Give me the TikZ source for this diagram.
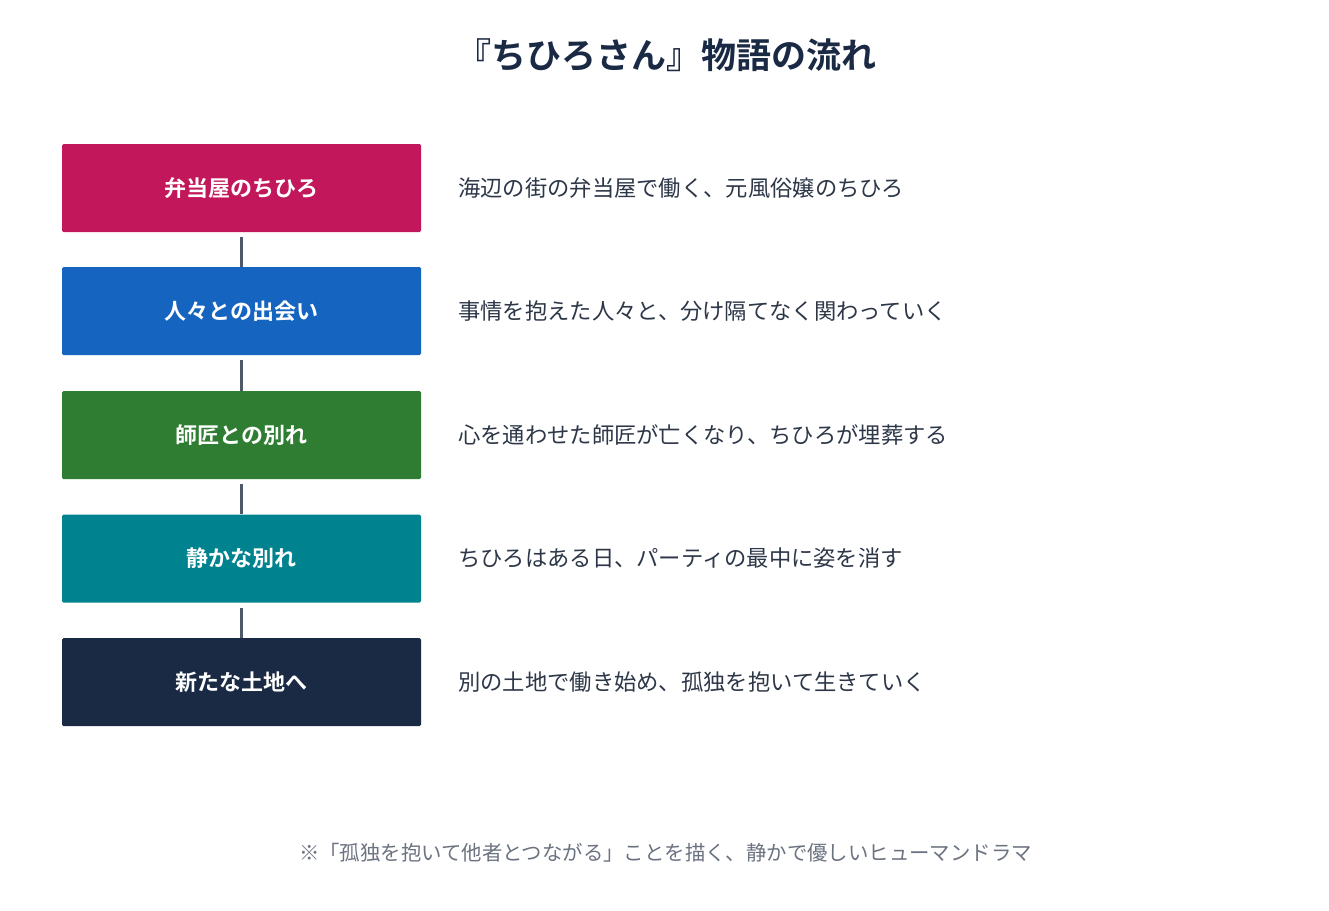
\documentclass[tikz,border=0pt]{standalone}
\usepackage{fontspec}
\setmainfont{Noto Sans CJK JP}
\newfontfamily\jpbold{Noto Sans CJK JP Bold}
\definecolor{cPink}{HTML}{C2185B}
\definecolor{cBlue}{HTML}{1565C0}
\definecolor{cGreen}{HTML}{2E7D32}
\definecolor{cTeal}{HTML}{00838F}
\definecolor{cNavy}{HTML}{1B2A44}
\definecolor{cLine}{HTML}{4F5866}
\definecolor{cText}{HTML}{2D3748}
\definecolor{cFoot}{HTML}{6B7280}
\tikzset{
  stagebox/.style={rectangle, rounded corners=1.5pt, minimum width=359pt, minimum height=88pt, inner sep=0pt, text=white, font=\jpbold\fontsize{22pt}{26pt}\selectfont},
  desc/.style={anchor=west, inner sep=0pt, text=cText, font=\fontsize{22.3pt}{26pt}\selectfont},
  conn/.style={draw=cLine, line width=3.2pt, shorten <=5pt}
}
\begin{document}
\begin{tikzpicture}[x=1pt,y=-1pt]
\useasboundingbox[fill=white] (0,0) rectangle (1329,910);
\node[text=cNavy, font=\jpbold\fontsize{35pt}{40pt}\selectfont, inner sep=0pt] (title) at (666,55) {『ちひろさん』物語の流れ};

\node[stagebox, fill=cPink] (s1) at (241.5,188) {弁当屋のちひろ};
\node[stagebox, fill=cBlue] (s2) at (241.5,311) {人々との出会い};
\node[stagebox, fill=cGreen] (s3) at (241.5,435) {師匠との別れ};
\node[stagebox, fill=cTeal] (s4) at (241.5,558.5) {静かな別れ};
\node[stagebox, fill=cNavy] (s5) at (241.5,682) {新たな土地へ};

\draw[conn] (s1.south) -- (s2.north);
\draw[conn] (s2.south) -- (s3.north);
\draw[conn] (s3.south) -- (s4.north);
\draw[conn] (s4.south) -- (s5.north);

\node[desc] (d1) at (458,188) {海辺の街の弁当屋で働く、元風俗嬢のちひろ};
\node[desc] (d2) at (458,311) {事情を抱えた人々と、分け隔てなく関わっていく};
\node[desc] (d3) at (458,435) {心を通わせた師匠が亡くなり、ちひろが埋葬する};
\node[desc] (d4) at (458,558.5) {ちひろはある日、パーティの最中に姿を消す};
\node[desc] (d5) at (458,682) {別の土地で働き始め、孤独を抱いて生きていく};

\node[text=cFoot, font=\fontsize{20.4pt}{24pt}\selectfont, inner sep=0pt] (foot) at (665.5,853) {※「孤独を抱いて他者とつながる」ことを描く、静かで優しいヒューマンドラマ};
\end{tikzpicture}
\end{document}
